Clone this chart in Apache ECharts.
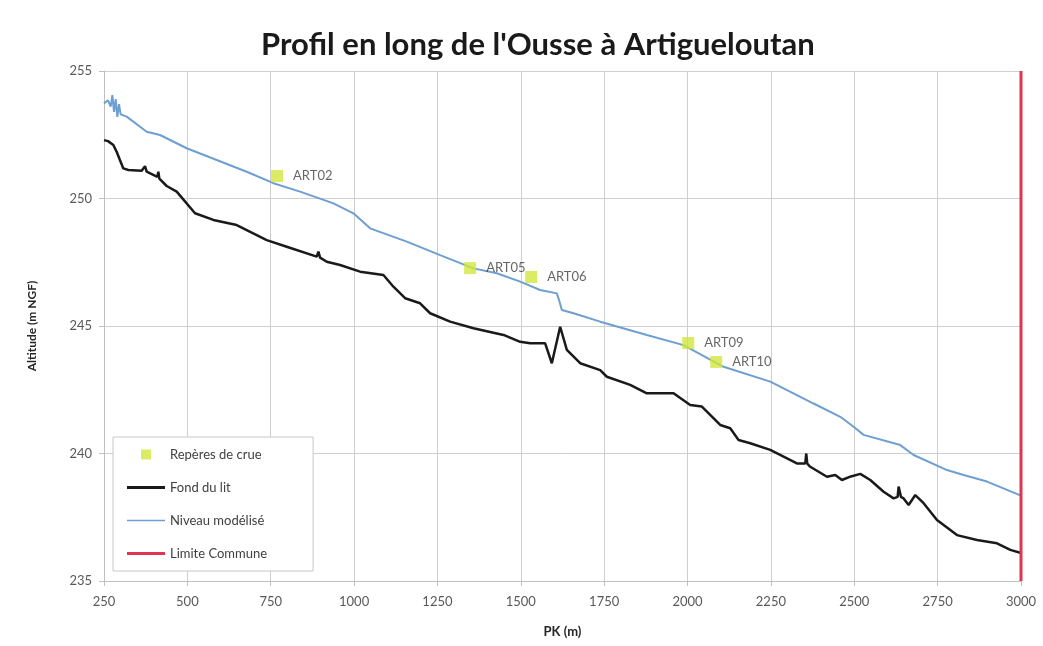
<!DOCTYPE html>
<html>
<head>
<meta charset="utf-8">
<script src="https://cdn.jsdelivr.net/npm/echarts@6/dist/echarts.min.js"></script>
<style>
  html, body { margin: 0; padding: 0; background: #fff; }
  #chart { width: 1043px; height: 646px; }
</style>
</head>
<body>
<div id="chart"></div>
<script>
// Fond du lit (PK m, altitude m NGF)
const fondPk = [250, 262, 278, 288, 298, 308, 323, 363, 373, 378, 383, 410, 413, 416, 438, 468, 523, 578, 648, 738,
  798, 888, 893, 898, 918, 958, 1018, 1088, 1118, 1153, 1198, 1228, 1288, 1358, 1448, 1498, 1528, 1573, 1593, 1618,
  1638, 1678, 1738, 1758, 1828, 1878, 1958, 2008, 2043, 2098, 2128, 2153, 2188, 2248, 2328, 2353, 2356, 2359, 2368,
  2418, 2443, 2463, 2490, 2518, 2548, 2588, 2618, 2630, 2633, 2640, 2648, 2663, 2683, 2708, 2748, 2808, 2868, 2928,
  2968, 3000];
const fondAlt = [252.29, 252.25, 252.1, 251.83, 251.5, 251.18, 251.12, 251.09, 251.27, 251.05, 250.99, 250.85, 251.05,
  250.78, 250.49, 250.27, 249.42, 249.16, 248.96, 248.37, 248.11, 247.72, 247.92, 247.68, 247.52, 247.39, 247.13,
  247.0, 246.54, 246.09, 245.89, 245.5, 245.17, 244.91, 244.65, 244.38, 244.32, 244.32, 243.54, 244.97, 244.06,
  243.54, 243.27, 243.01, 242.69, 242.36, 242.36, 241.9, 241.84, 241.12, 240.99, 240.53, 240.4, 240.14, 239.61,
  239.61, 240.0, 239.6, 239.48, 239.09, 239.16, 238.96, 239.1, 239.2, 238.96, 238.5, 238.24, 238.3, 238.7, 238.3,
  238.24, 237.98, 238.37, 238.05, 237.39, 236.8, 236.61, 236.48, 236.22, 236.1];

// Niveau modélisé
const niveauPk = [250, 262, 270, 275, 280, 285, 290, 295, 300, 318, 378, 418, 498, 588, 678, 758, 838, 938, 998, 1048,
  1158, 1258, 1358, 1428, 1498, 1558, 1608, 1615, 1623, 1658, 1738, 1878, 1988, 2108, 2248, 2378, 2458, 2498, 2528,
  2638, 2678, 2778, 2828, 2898, 3000];
const niveauAlt = [253.73, 253.85, 253.6, 254.05, 253.4, 253.9, 253.2, 253.7, 253.3, 253.21, 252.62, 252.49, 251.97,
  251.51, 251.05, 250.6, 250.27, 249.81, 249.42, 248.83, 248.31, 247.78, 247.26, 247.07, 246.74, 246.41, 246.28,
  246.0, 245.63, 245.5, 245.17, 244.65, 244.25, 243.4, 242.82, 241.96, 241.44, 241.05, 240.73, 240.33, 239.94,
  239.35, 239.16, 238.9, 238.35];

// Repères de crue
const repereNames = ["ART02", "ART05", "ART06", "ART09", "ART10"];
const reperePk = [769, 1348, 1531, 2002, 2086];
const repereAlt = [250.88, 247.27, 246.92, 244.33, 243.59];

// Limite Commune
const limitePk = [3000, 3000];
const limiteAlt = [235, 255];

const xTicks = { min: 250, max: 3000, interval: 250 };
const yTicks = { min: 235, max: 255, interval: 5 };

const font = "Lato, 'Open Sans', sans-serif";
const zip = (a, b) => a.map((v, i) => [v, b[i]]);

// legend icons: aspect is kept, so a thin rect gives a line, a square gives a square
const squareIcon = "path://M0,0 L10,0 L10,10 L0,10 Z";
const thickLine = "path://M0,0 L38,0 L38,3 L0,3 Z";
const thinLine = "path://M0,0 L38,0 L38,1.6 L0,1.6 Z";

const chart = echarts.init(document.getElementById("chart"));
chart.setOption({
  animation: false,
  textStyle: { fontFamily: font },
  title: {
    text: "Profil en long de l'Ousse à Artigueloutan",
    left: 256,
    top: 24,
    textStyle: { fontSize: 31, fontWeight: "bold", color: "#1a1a1a", fontFamily: font },
  },
  legend: {
    orient: "vertical",
    left: 113,
    top: 437,
    padding: [11, 46, 11, 14],
    itemGap: 20,
    itemWidth: 38,
    itemHeight: 10,
    backgroundColor: "#fff",
    borderColor: "#c8c8c8",
    borderWidth: 1,
    textStyle: { fontSize: 13, color: "#404040" },
    data: [
      { name: "Repères de crue", icon: squareIcon, itemStyle: { color: "#d2e63c" } },
      { name: "Fond du lit", icon: thickLine },
      { name: "Niveau modélisé", icon: thinLine },
      { name: "Limite Commune", icon: thickLine },
    ],
  },
  grid: { left: 104, right: 22, top: 71, bottom: 65 },
  xAxis: {
    type: "value",
    min: xTicks.min,
    max: xTicks.max,
    interval: xTicks.interval,
    name: "PK (m)",
    nameLocation: "middle",
    nameGap: 44,
    nameTextStyle: { fontSize: 13, fontWeight: "bold", color: "#262626" },
    axisLine: { show: true, lineStyle: { color: "#bfbfbf" } },
    axisTick: { show: true, length: 5, lineStyle: { color: "#bfbfbf" } },
    axisLabel: { fontSize: 13, color: "#595959", margin: 14, formatter: (v) => String(v) },
    splitLine: { show: true, lineStyle: { color: "#cfcfcf", width: 1 } },
  },
  yAxis: {
    type: "value",
    min: yTicks.min,
    max: yTicks.max,
    interval: yTicks.interval,
    name: "Altitude (m NGF)",
    nameLocation: "middle",
    nameGap: 66,
    nameTextStyle: { fontSize: 12, fontWeight: "bold", color: "#262626" },
    axisLine: { show: true, lineStyle: { color: "#bfbfbf" } },
    axisTick: { show: true, length: 5, lineStyle: { color: "#bfbfbf" } },
    axisLabel: { fontSize: 13, color: "#595959", margin: 12, formatter: (v) => String(v) },
    splitLine: { show: true, lineStyle: { color: "#cfcfcf", width: 1 } },
  },
  series: [
    {
      name: "Fond du lit",
      type: "line",
      data: zip(fondPk, fondAlt),
      showSymbol: false,
      symbol: "none",
      lineStyle: { color: "#1a1a1a", width: 2.5 },
      itemStyle: { color: "#1a1a1a" },
      z: 3,
    },
    {
      name: "Niveau modélisé",
      type: "line",
      data: zip(niveauPk, niveauAlt),
      showSymbol: false,
      symbol: "none",
      lineStyle: { color: "#6e9fd2", width: 2 },
      itemStyle: { color: "#6e9fd2" },
      z: 3,
    },
    {
      name: "Limite Commune",
      type: "line",
      data: zip(limitePk, limiteAlt),
      showSymbol: false,
      symbol: "none",
      lineStyle: { color: "#e0354f", width: 3 },
      itemStyle: { color: "#e0354f" },
      z: 4,
    },
    {
      name: "Repères de crue",
      type: "scatter",
      data: reperePk.map((pk, i) => ({ value: [pk, repereAlt[i]], name: repereNames[i] })),
      symbol: "rect",
      symbolSize: 12,
      itemStyle: { color: "#d2e63c" },
      label: {
        show: true,
        position: "right",
        distance: 10,
        formatter: (p) => p.name,
        fontSize: 13,
        color: "#404040",
      },
      z: 5,
    },
  ],
});
</script>
</body>
</html>
